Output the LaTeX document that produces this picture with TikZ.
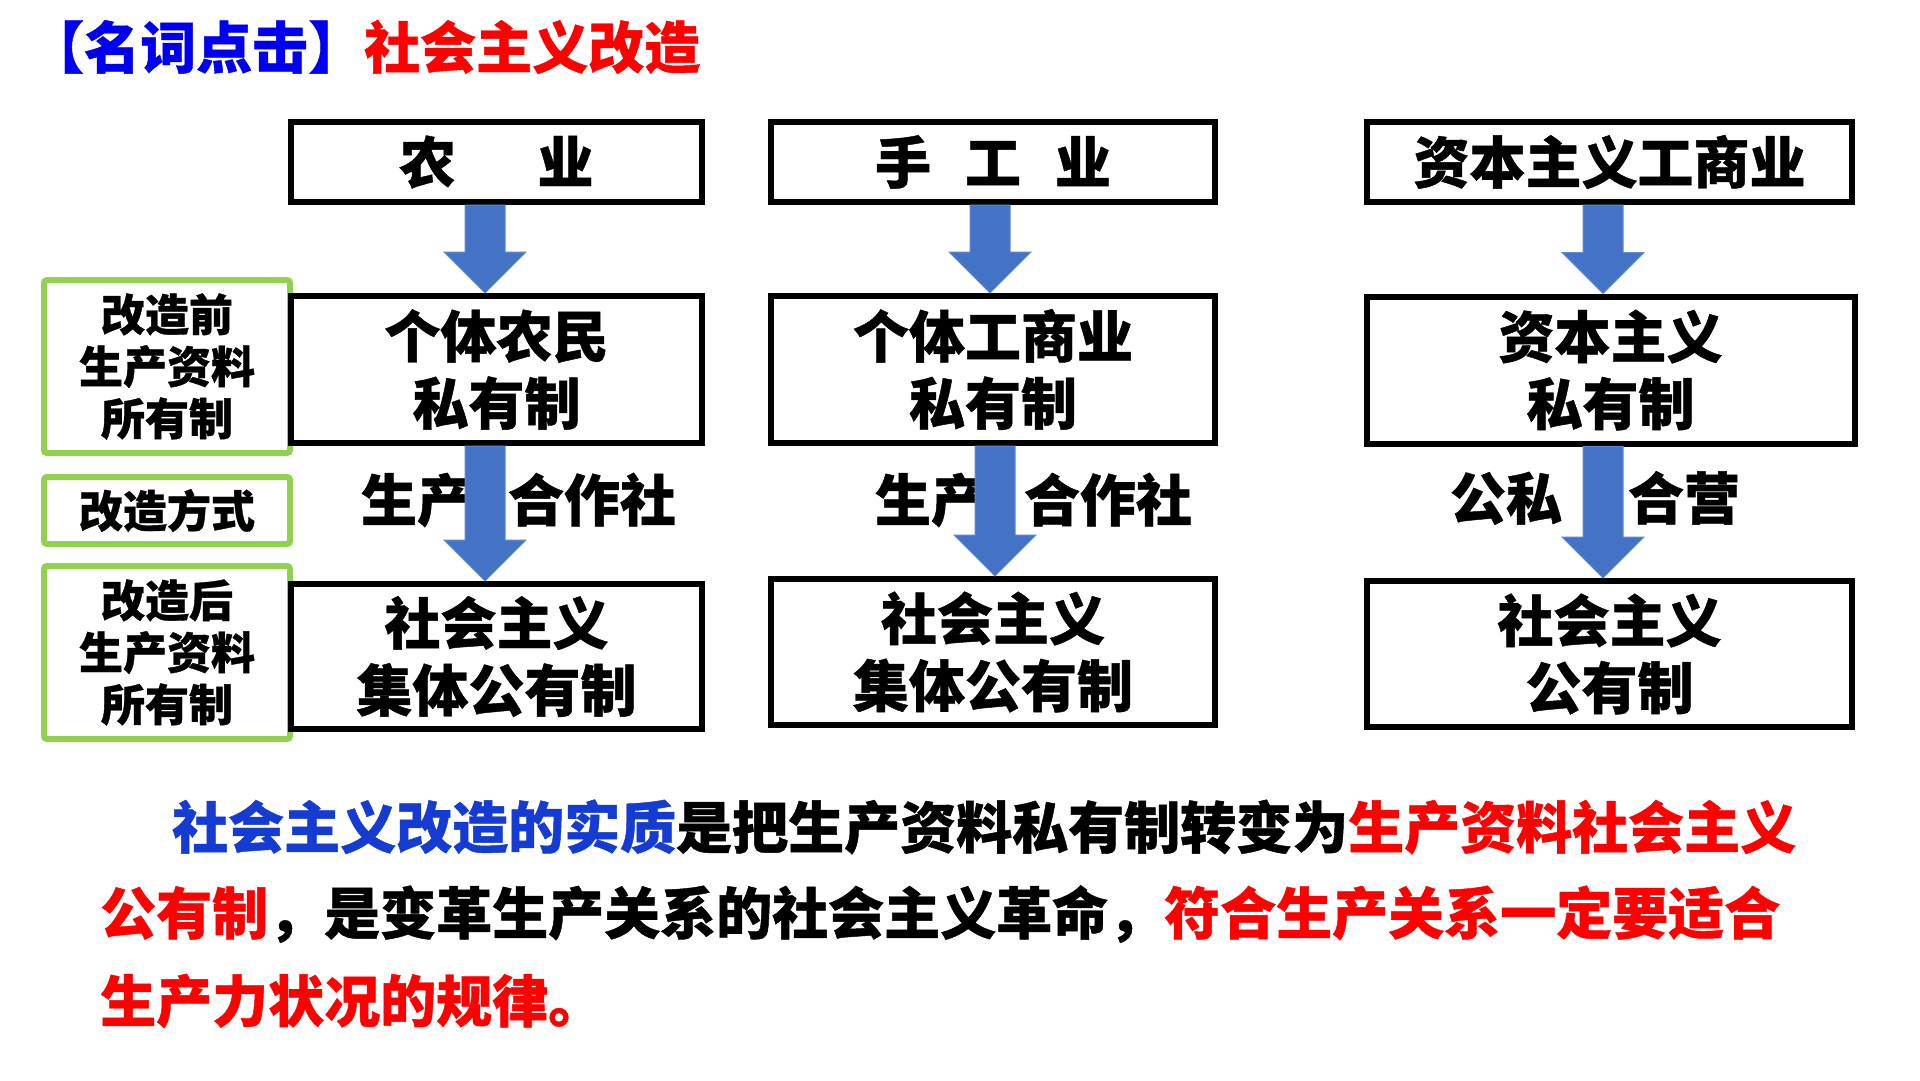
\documentclass[tikz,border=0pt]{standalone}
\usepackage{fontspec}
\setmainfont{Noto Sans CJK SC}[BoldFeatures={FakeBold=0.8}]
\usetikzlibrary{calc}
\definecolor{titleblue}{RGB}{0,0,240}
\definecolor{tred}{RGB}{255,0,0}
\definecolor{bodyblue}{RGB}{20,60,210}
\definecolor{lgreen}{RGB}{146,208,80}
\definecolor{arrowblue}{RGB}{68,114,196}
\definecolor{arrowedge}{RGB}{95,138,212}
\newcommand{\bluearrow}[2]{%
  \path[fill=arrowblue, draw=arrowedge, line width=1pt] let \p1=(#1), \p2=(#2) in
    (\x1-20pt,\y1) -- (\x1+20pt,\y1) -- (\x1+20pt,\y2+41pt) -- (\x1+41pt,\y2+41pt)
    -- (\x1,\y2) -- (\x1-41pt,\y2+41pt) -- (\x1-20pt,\y2+41pt) -- cycle;}
\tikzset{
  bbox/.style={draw=black, line width=6pt, inner sep=0pt, align=center,
    font=\bfseries\fontsize{56}{67}\selectfont},
  gbox/.style={draw=lgreen, line width=6pt, rounded corners=3pt, inner sep=0pt,
    align=center, minimum width=246pt, font=\bfseries\fontsize{44}{52}\selectfont},
  lbl/.style={inner sep=0pt, font=\bfseries\fontsize{56}{67}\selectfont},
  body/.style={anchor=west, inner sep=0pt, font=\bfseries\fontsize{56}{67}\selectfont},
}
\begin{document}
\begin{tikzpicture}[x=1pt,y=-1pt]
\fill[white] (0,0) rectangle (1920,1080);
\useasboundingbox (0,0) rectangle (1920,1080);

% title
\node[anchor=west, inner sep=0pt, font=\bfseries\fontsize{56}{67}\selectfont] (title) at (28,47)
  {\textcolor{titleblue}{【名词点击】}\textcolor{tred}{社会主义改造}};

% green label boxes
\node[gbox, minimum height=173pt] (g1) at (167,366.5) {改造前\\生产资料\\所有制};
\node[gbox, minimum height=67pt] (g2) at (167,510.5) {改造方式};
\node[gbox, minimum height=173pt] (g3) at (167,652.5) {改造后\\生产资料\\所有制};

% black boxes
\node[bbox, minimum width=411pt, minimum height=80pt] (t1) at (496.5,162) {农\hspace{82pt}业};
\node[bbox, minimum width=444pt, minimum height=80pt] (t2) at (993,162) {手\hspace{34pt}工\hspace{34pt}业};
\node[bbox, minimum width=485pt, minimum height=80pt] (t3) at (1609.5,162) {资本主义工商业};
\node[bbox, minimum width=411pt, minimum height=147pt] (m1) at (496.5,369.5) {个体农民\\私有制};
\node[bbox, minimum width=444pt, minimum height=147pt] (m2) at (993,369.5) {个体工商业\\私有制};
\node[bbox, minimum width=488pt, minimum height=147pt] (m3) at (1610.5,370) {资本主义\\私有制};
\node[bbox, minimum width=411pt, minimum height=145pt] (b1) at (496.5,656.5) {社会主义\\集体公有制};
\node[bbox, minimum width=444pt, minimum height=146pt] (b2) at (993,652) {社会主义\\集体公有制};
\node[bbox, minimum width=485pt, minimum height=146pt] (b3) at (1609.5,654) {社会主义\\公有制};

% transformation labels
\node[lbl] (w1) at (518.5,500) {生产\hspace{35pt}合作社};
\node[lbl] (w2) at (1033.5,500) {生产\hspace{37pt}合作社};
\node[lbl] (w3) at (1595,498) {公私\hspace{66pt}合营};

% arrows
\coordinate (a1) at ([xshift=-11.5pt]t1.south);
\coordinate (a2) at ([xshift=-3pt]t2.south);
\coordinate (a3) at ([xshift=-6.5pt]t3.south);
\coordinate (l1) at ([xshift=-11.5pt]m1.south);
\coordinate (l2) at ([xshift=2pt]m2.south);
\coordinate (l3) at ([xshift=-7.5pt]m3.south);
\bluearrow{a1}{a1 |- m1.north}
\bluearrow{a2}{a2 |- m2.north}
\bluearrow{a3}{a3 |- m3.north}
\bluearrow{l1}{l1 |- b1.north}
\bluearrow{l2}{l2 |- b2.north}
\bluearrow{l3}{l3 |- b3.north}

% body text
\node[body] (p1) at (172,827) {\textcolor{bodyblue}{社会主义改造的实质}是把生产资料私有制转变为\textcolor{tred}{生产资料社会主义}};
\node[body] (p2) at (100,914) {\textcolor{tred}{公有制}，是变革生产关系的社会主义革命，\textcolor{tred}{符合生产关系一定要适合}};
\node[body] (p3) at (100,1001) {\textcolor{tred}{生产力状况的规律。}};
\end{tikzpicture}
\end{document}
